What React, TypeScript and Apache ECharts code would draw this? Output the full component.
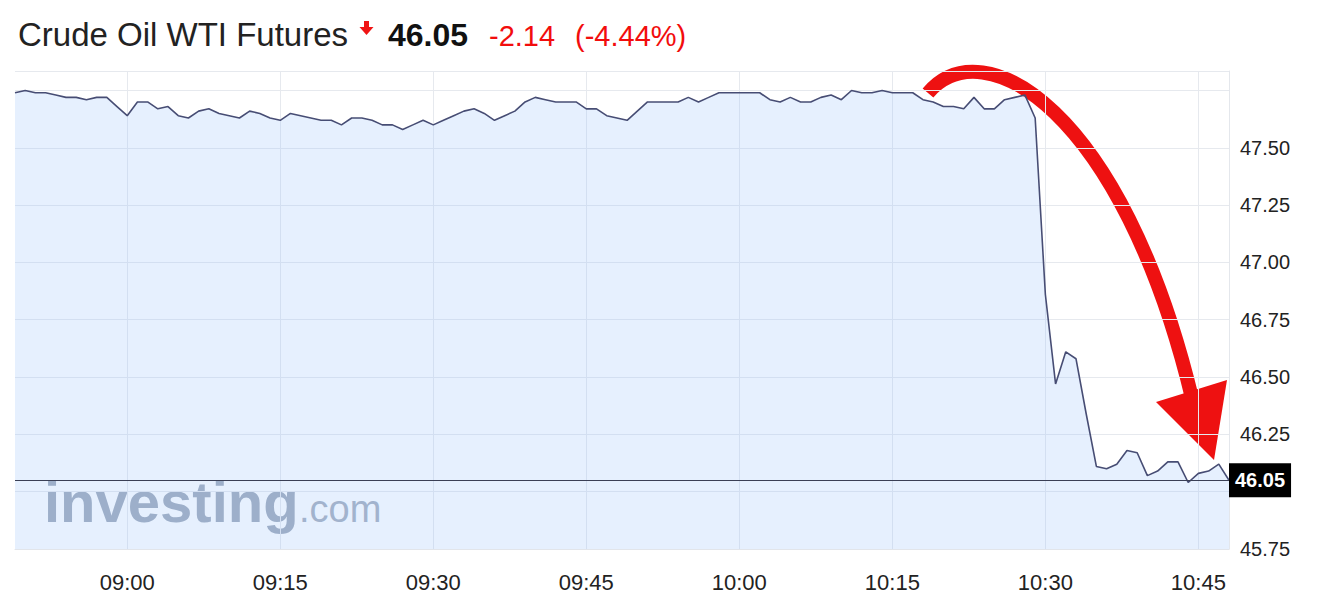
import React, { useEffect, useRef } from "react";
import * as echarts from "echarts";

// ---- data ----
const startMinute = 8 * 60 + 49; // 08:49
const prices: number[] = [
  47.74, 47.75, 47.74, 47.74, 47.73, 47.72, 47.72, 47.71, 47.72, 47.72,
  47.68, 47.64, 47.70, 47.70, 47.67, 47.68, 47.64, 47.63, 47.66, 47.67,
  47.65, 47.64, 47.63, 47.66, 47.65, 47.63, 47.62, 47.65, 47.64, 47.63,
  47.62, 47.62, 47.60, 47.63, 47.63, 47.62, 47.60, 47.60, 47.58, 47.60,
  47.62, 47.60, 47.62, 47.64, 47.66, 47.67, 47.65, 47.62, 47.64, 47.66,
  47.70, 47.72, 47.71, 47.70, 47.70, 47.70, 47.67, 47.67, 47.64, 47.63,
  47.62, 47.66, 47.70, 47.70, 47.70, 47.70, 47.72, 47.70, 47.72, 47.74,
  47.74, 47.74, 47.74, 47.74, 47.71, 47.70, 47.72, 47.70, 47.70, 47.72,
  47.73, 47.71, 47.75, 47.74, 47.74, 47.75, 47.74, 47.74, 47.74, 47.71,
  47.70, 47.68, 47.68, 47.67, 47.72, 47.67, 47.67, 47.71, 47.72, 47.73,
  47.63, 46.86, 46.47, 46.61, 46.58, 46.34, 46.11, 46.10, 46.12, 46.18,
  46.17, 46.07, 46.09, 46.13, 46.13, 46.04, 46.08, 46.09, 46.12, 46.05,
];
const pad = (n: number) => (n < 10 ? "0" + n : String(n));
const times: string[] = prices.map((_, i) => {
  const m = startMinute + i;
  return pad(Math.floor(m / 60)) + ":" + pad(m % 60);
});
const labelMinutes = ["00", "15", "30", "45"];
const hiddenYLabels = [47.75, 46.0];
const yMin = 45.75;
const yMax = 47.835;
const yStep = 0.25;

const titleText = "Crude Oil WTI Futures";
const lastPrice = prices[prices.length - 1];
const changeText = "-2.14";
const changePctText = "(-4.44%)";

const FONT = "'Liberation Sans', Arial, Helvetica, sans-serif";

export default function App() {
  const ref = useRef<HTMLDivElement>(null);
  useEffect(() => {
    if (!ref.current) return;
    const chart = echarts.init(ref.current, null, { renderer: "svg" });
    const showLabel = (_i: number, v: string) =>
      labelMinutes.indexOf(v.slice(3)) >= 0;
    chart.setOption({
      animation: false,
      backgroundColor: "#ffffff",
      textStyle: { fontFamily: FONT },
      grid: { left: 15, right: 106, top: 71, bottom: 51, containLabel: false },
      xAxis: {
        type: "category",
        data: times,
        boundaryGap: false,
        axisLine: { show: true, lineStyle: { color: "#e2e5ea" } },
        axisTick: { show: false },
        axisLabel: {
          interval: showLabel,
          color: "#222222",
          fontSize: 22,
          margin: 22,
          fontFamily: FONT,
        },
        splitLine: {
          show: true,
          interval: showLabel,
          lineStyle: { color: "#e6e9ee", width: 1 },
        },
      },
      yAxis: {
        type: "value",
        position: "right",
        min: yMin,
        max: yMax,
        interval: yStep,
        axisLine: { show: true, lineStyle: { color: "#e4e7ec" } },
        axisTick: { show: false },
        splitLine: { show: true, lineStyle: { color: "#e6e9ee", width: 1 } },
        axisLabel: {
          color: "#222222",
          fontSize: 20,
          margin: 11,
          fontFamily: FONT,
          showMaxLabel: false,
          formatter: (v: number) =>
            hiddenYLabels.some((h) => Math.abs(h - v) < 1e-6) ? "" : v.toFixed(2),
        },
      },
      series: [
        {
          type: "line",
          data: prices,
          symbol: "none",
          smooth: false,
          lineStyle: { color: "#474d74", width: 1.6 },
          areaStyle: { origin: "start", color: "rgba(150,193,252,0.34)" },
          silent: true,
          markLine: {
            silent: true,
            symbol: ["none", "none"],
            lineStyle: { color: "#3a3f55", width: 1.2, type: "solid" },
            label: {
              show: true,
              position: "end",
              distance: 0,
              formatter: () => lastPrice.toFixed(2),
              backgroundColor: "#000000",
              color: "#ffffff",
              fontWeight: "bold",
              fontSize: 20,
              fontFamily: FONT,
              padding: [7, 6, 7, 6],
            },
            data: [{ yAxis: lastPrice }],
          },
        },
      ],
      graphic: [
        {
          type: "text",
          left: 18,
          top: 18,
          style: {
            text: titleText,
            fontSize: 33,
            fontFamily: FONT,
            fill: "#222222",
          },
        },
        {
          type: "rect",
          shape: { x: 364, y: 21, width: 5, height: 7 },
          style: { fill: "#f01414" },
        },
        {
          type: "polygon",
          shape: { points: [[359.5, 27], [373.5, 27], [366.5, 35]] },
          style: { fill: "#f01414" },
        },
        {
          type: "text",
          left: 388,
          top: 19,
          style: {
            text: lastPrice.toFixed(2),
            fontSize: 32,
            fontWeight: "bold",
            fontFamily: FONT,
            fill: "#111111",
          },
        },
        {
          type: "text",
          left: 489,
          top: 21,
          style: { text: changeText, fontSize: 29, fontFamily: FONT, fill: "#f20d0d" },
        },
        {
          type: "text",
          left: 575,
          top: 21,
          style: { text: changePctText, fontSize: 29, fontFamily: FONT, fill: "#f20d0d" },
        },
        {
          type: "text",
          left: 44,
          top: 472,
          style: {
            text: "investing",
            fontSize: 58,
            fontWeight: "bold",
            fontFamily: FONT,
            fill: "#9faabb",
          },
        },
        {
          type: "text",
          left: 299,
          top: 490,
          style: { text: ".com", fontSize: 38, fontFamily: FONT, fill: "#a6afbf" },
        },
        {
          type: "bezierCurve",
          shape: {
            x1: 928,
            y1: 93,
            cpx1: 983,
            cpy1: 28,
            cpx2: 1122,
            cpy2: 108,
            x2: 1192,
            y2: 398,
          },
          style: { stroke: "#ee1111", lineWidth: 14, fill: "none" },
        },
        {
          type: "polygon",
          shape: { points: [[1156, 402], [1227, 380], [1214, 460]] },
          style: { fill: "#ee1111" },
        },
      ],
    });
    return () => chart.dispose();
  }, []);
  return (
    <div
      ref={ref}
      style={{ position: "fixed", left: 0, top: 0, width: 1335, height: 600 }}
    />
  );
}
